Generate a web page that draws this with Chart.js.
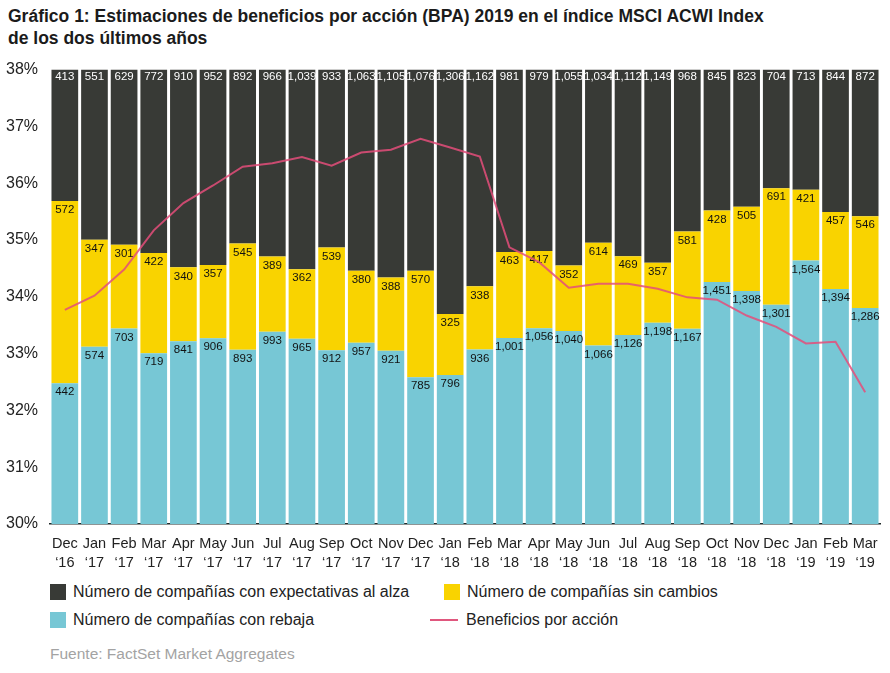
<!DOCTYPE html>
<html lang="es">
<head>
<meta charset="utf-8">
<script src="https://cdn.jsdelivr.net/npm/chart.js@4.4.1/dist/chart.umd.min.js"></script>
<style>
  body { margin: 0; background: #fff; font-family: "Liberation Sans", Arial, sans-serif; color: #222; }
  #titulo { position: absolute; left: 8px; top: 5px; font-size: 17.5px; font-weight: bold; line-height: 22px; color: #1b1b1b; }
  #caja { position: absolute; left: 0; top: 56px; width: 890px; height: 520px; }
  .leyenda { position: absolute; font-size: 16px; color: #222; display: flex; align-items: center; }
  .cuadro { width: 16px; height: 16px; margin-right: 7px; }
  .linea { width: 28px; height: 2px; margin-right: 8px; background: #e0577e; }
  #fuente { position: absolute; left: 50px; top: 645px; font-size: 15.5px; color: #a3a3a3; }
</style>
</head>
<body>
<div id="titulo">Gráfico 1: Estimaciones de beneficios por acción (BPA) 2019 en el índice MSCI ACWI Index<br>de los dos últimos años</div>
<div id="caja"><canvas id="grafico"></canvas></div>
<div class="leyenda" style="left:50px; top:583px;"><div class="cuadro" style="background:#383a36"></div>Número de compañías con expectativas al alza</div>
<div class="leyenda" style="left:444px; top:583px;"><div class="cuadro" style="background:#f9d300"></div>Número de compañías sin cambios</div>
<div class="leyenda" style="left:50px; top:611px;"><div class="cuadro" style="background:#77c7d5"></div>Número de compañías con rebaja</div>
<div class="leyenda" style="left:430px; top:611px;"><div class="linea"></div>Beneficios por acción</div>
<div id="fuente">Fuente: FactSet Market Aggregates</div>
<script>
const meses = [
  ["Dec", "‘16"], ["Jan", "‘17"], ["Feb", "‘17"], ["Mar", "‘17"], ["Apr", "‘17"], ["May", "‘17"], ["Jun", "‘17"],
  ["Jul", "‘17"], ["Aug", "‘17"], ["Sep", "‘17"], ["Oct", "‘17"], ["Nov", "‘17"], ["Dec", "‘17"], ["Jan", "‘18"],
  ["Feb", "‘18"], ["Mar", "‘18"], ["Apr", "‘18"], ["May", "‘18"], ["Jun", "‘18"], ["Jul", "‘18"], ["Aug", "‘18"],
  ["Sep", "‘18"], ["Oct", "‘18"], ["Nov", "‘18"], ["Dec", "‘18"], ["Jan", "‘19"], ["Feb", "‘19"], ["Mar", "‘19"]
];

const alza = [413, 551, 629, 772, 910, 952, 892, 966, 1039, 933, 1063, 1105, 1076, 1306,
  1162, 981, 979, 1055, 1034, 1112, 1149, 968, 845, 823, 704, 713, 844, 872];
const sinCambios = [572, 347, 301, 422, 340, 357, 545, 389, 362, 539, 380, 388, 570, 325,
  338, 463, 417, 352, 614, 469, 357, 581, 428, 505, 691, 421, 457, 546];
const rebaja = [442, 574, 703, 719, 841, 906, 893, 993, 965, 912, 957, 921, 785, 796,
  936, 1001, 1056, 1040, 1066, 1126, 1198, 1167, 1451, 1398, 1301, 1564, 1394, 1286];
const bpa = [33.77, 34.02, 34.48, 35.17, 35.65, 35.96, 36.29, 36.35, 36.46, 36.31, 36.54, 36.59, 36.78, 36.63,
  36.47, 34.87, 34.61, 34.16, 34.23, 34.23, 34.14, 33.99, 33.95, 33.67, 33.47, 33.18, 33.21, 32.32];

const ticksY = [30, 31, 32, 33, 34, 35, 36, 37, 38];

// cada barra llena el 100% (reparto de las compañías)
const totales = alza.map((v, i) => v + sinCambios[i] + rebaja[i]);
const pct = arr => arr.map((v, i) => v / totales[i] * 100);
const conteos = [rebaja, sinCambios, alza];

const etiquetas = {
  id: "etiquetas",
  afterDatasetDraw(chart, args) {
    const i = args.index;
    if (i > 2) return;
    const ctx = chart.ctx;
    const meta = args.meta;
    ctx.save();
    ctx.font = "11.5px 'Liberation Sans', Arial, sans-serif";
    ctx.textAlign = "center";
    ctx.textBaseline = "middle";
    ctx.fillStyle = i === 2 ? "#ffffff" : "#111111";
    meta.data.forEach((bar, j) => {
      const arriba = Math.min(bar.y, bar.base);
      const n = conteos[i][j].toLocaleString("en-US");
      ctx.fillText(n, bar.x, arriba + (i === 2 ? 7 : 9));
    });
    ctx.restore();
  }
};

const ctx = document.getElementById("grafico").getContext("2d");

new Chart(ctx, {
  type: "bar",
  data: {
    labels: meses,
    datasets: [
      { label: "Número de compañías con rebaja", data: pct(rebaja), backgroundColor: "#77c7d5", yAxisID: "yBar", order: 1 },
      { label: "Número de compañías sin cambios", data: pct(sinCambios), backgroundColor: "#f9d300", yAxisID: "yBar", order: 1 },
      { label: "Número de compañías con expectativas al alza", data: pct(alza), backgroundColor: "#383a36", yAxisID: "yBar", order: 1 },
      {
        type: "line",
        label: "Beneficios por acción",
        data: bpa,
        yAxisID: "y",
        borderColor: "rgba(228, 78, 122, 0.85)",
        borderWidth: 2,
        pointRadius: 0,
        tension: 0,
        fill: false,
        order: 0
      }
    ]
  },
  options: {
    responsive: true,
    maintainAspectRatio: false,
    animation: false,
    layout: { padding: { top: 9, right: 10, left: 0, bottom: 0 } },
    datasets: { bar: { barPercentage: 0.9, categoryPercentage: 1.0 } },
    scales: {
      x: {
        stacked: true,
        grid: { display: false },
        border: { display: true, color: "#1f2a2a", width: 1.5 },
        ticks: {
          color: "#222",
          padding: 3,
          maxRotation: 0,
          autoSkip: false,
          font: { family: "'Liberation Sans', Arial, sans-serif", size: 14.5, lineHeight: 1.3 }
        },
        afterFit: (axis) => { axis.height = 52; }
      },
      yBar: {
        stacked: true,
        display: false,
        min: 0,
        max: 100
      },
      y: {
        position: "left",
        min: 30,
        max: 38,
        afterBuildTicks: (axis) => { axis.ticks = ticksY.map(v => ({ value: v })); },
        grid: { display: false },
        border: { display: false },
        ticks: {
          color: "#222",
          padding: 4,
          callback: (v) => v + "%",
          font: { family: "'Liberation Sans', Arial, sans-serif", size: 16 }
        },
        afterFit: (axis) => { axis.width = 50; }
      }
    },
    plugins: {
      legend: { display: false },
      tooltip: { enabled: false }
    }
  },
  plugins: [etiquetas]
});
</script>
</body>
</html>
